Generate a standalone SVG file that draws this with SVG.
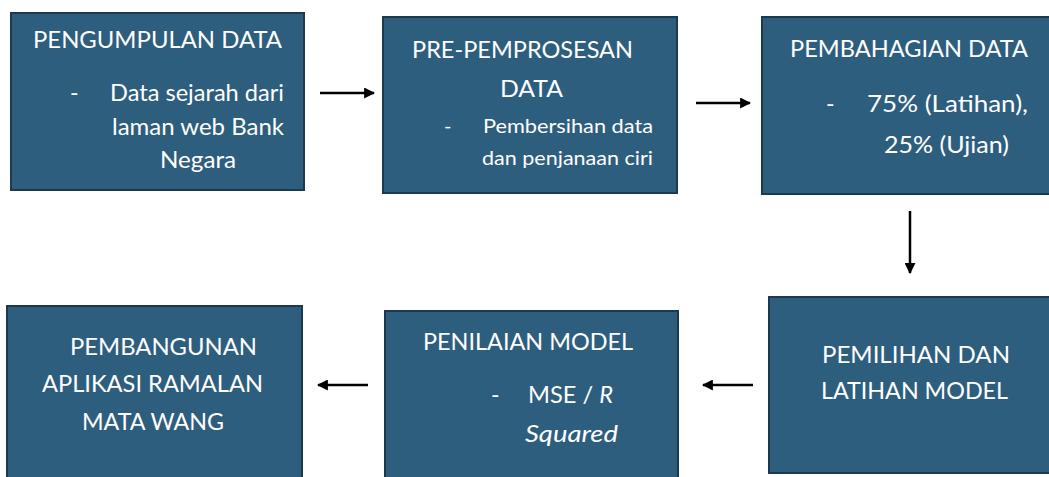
<svg xmlns="http://www.w3.org/2000/svg" width="1049" height="477" viewBox="0 0 1049 477">
<style>
.box{fill:#2e5e7e;stroke:#1b3a4f;stroke-width:2}
.t{font-family:Lato,"Open Sans",sans-serif;fill:#fff;font-size:23px}
.s{font-size:20px}
.i{font-style:italic}
.c{stroke:#000;stroke-width:2.5;fill:none;marker-end:url(#ah)}
</style>
<defs>
<marker id="ah" viewBox="0 0 10 10" refX="9" refY="5" markerWidth="4.4" markerHeight="4.4" orient="auto" markerUnits="strokeWidth">
<path d="M0,0 L10,5 L0,10 z" fill="#000"/>
</marker>
</defs>
<rect width="1049" height="477" fill="#fff"/>
<g id="n1">
<rect class="box" x="11" y="13" width="293" height="177"/>
<text class="t" x="33" y="48" textLength="249" lengthAdjust="spacingAndGlyphs">PENGUMPULAN DATA</text>
<text class="t" x="70" y="101">-</text>
<text class="t" x="110" y="101" textLength="174" lengthAdjust="spacingAndGlyphs">Data sejarah dari</text>
<text class="t" x="112" y="135" textLength="172" lengthAdjust="spacingAndGlyphs">laman web Bank</text>
<text class="t" x="160" y="168" textLength="76" lengthAdjust="spacingAndGlyphs">Negara</text>
</g>
<g id="n2">
<rect class="box" x="383" y="17" width="294" height="176"/>
<text class="t" x="412" y="58" textLength="221" lengthAdjust="spacingAndGlyphs">PRE-PEMPROSESAN</text>
<text class="t" x="500" y="97" textLength="63" lengthAdjust="spacingAndGlyphs">DATA</text>
<text class="t s" x="444" y="133">-</text>
<text class="t s" x="483" y="133" textLength="170" lengthAdjust="spacingAndGlyphs">Pembersihan data</text>
<text class="t s" x="482" y="165" textLength="171" lengthAdjust="spacingAndGlyphs">dan penjanaan ciri</text>
</g>
<g id="n3">
<rect class="box" x="762" y="17" width="300" height="177"/>
<text class="t" x="790" y="57" textLength="238" lengthAdjust="spacingAndGlyphs">PEMBAHAGIAN DATA</text>
<text class="t" x="826" y="112">-</text>
<text class="t" x="867" y="112" textLength="161" lengthAdjust="spacingAndGlyphs">75% (Latihan),</text>
<text class="t" x="884" y="153" textLength="125" lengthAdjust="spacingAndGlyphs">25% (Ujian)</text>
</g>
<g id="n4">
<rect class="box" x="7" y="306" width="295" height="185"/>
<text class="t" x="70" y="355" textLength="187" lengthAdjust="spacingAndGlyphs">PEMBANGUNAN</text>
<text class="t" x="42" y="392" textLength="221" lengthAdjust="spacingAndGlyphs">APLIKASI RAMALAN</text>
<text class="t" x="82" y="430" textLength="142" lengthAdjust="spacingAndGlyphs">MATA WANG</text>
</g>
<g id="n5">
<rect class="box" x="385" y="311" width="293" height="180"/>
<text class="t" x="423" y="350" textLength="210" lengthAdjust="spacingAndGlyphs">PENILAIAN MODEL</text>
<text class="t" x="491" y="403">-</text>
<text class="t" x="528" y="403" textLength="85" lengthAdjust="spacingAndGlyphs">MSE / <tspan class="i">R</tspan></text>
<text class="t i" x="525" y="442" textLength="93" lengthAdjust="spacingAndGlyphs">Squared</text>
</g>
<g id="n6">
<rect class="box" x="769" y="297" width="300" height="176"/>
<text class="t" x="822" y="363" textLength="188" lengthAdjust="spacingAndGlyphs">PEMILIHAN DAN</text>
<text class="t" x="821" y="399" textLength="187" lengthAdjust="spacingAndGlyphs">LATIHAN MODEL</text>
</g>
<g id="connectors">
<line class="c" x1="320" y1="93" x2="374" y2="93"/>
<line class="c" x1="696" y1="103" x2="750" y2="103"/>
<line class="c" x1="910" y1="211" x2="910" y2="273"/>
<line class="c" x1="753" y1="385" x2="703" y2="385"/>
<line class="c" x1="368" y1="385" x2="318" y2="385"/>
</g>
</svg>
